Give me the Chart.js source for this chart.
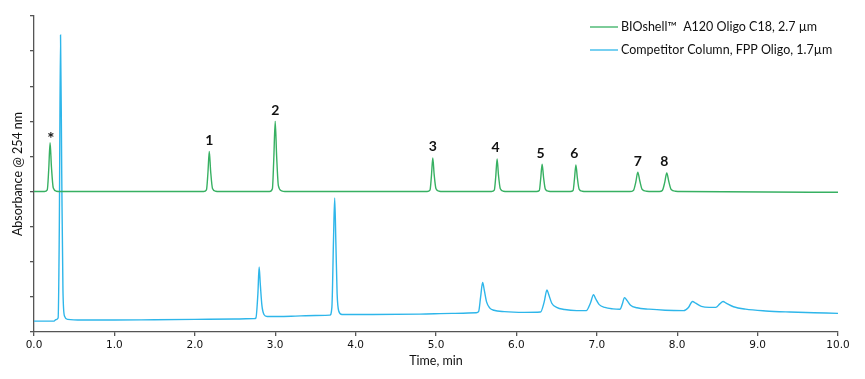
<!DOCTYPE html>
<html>
<head>
<meta charset="utf-8">
<script src="https://cdn.jsdelivr.net/npm/chart.js@4.4.0/dist/chart.umd.min.js"></script>
<style>
  html, body { margin: 0; padding: 0; background: #fff; }
</style>
</head>
<body>
<canvas id="chrom" width="865" height="379"></canvas>
<script>
// BIOshell trace (green), time in min / absorbance in tick units
const greenTime = [0, 0.13, 0.165, 0.183, 0.20, 0.217, 0.24, 0.28, 0.32,
    2.11, 2.145, 2.163, 2.18, 2.197, 2.22, 2.26, 2.30,
    2.93, 2.965, 2.982, 3.00, 3.018, 3.04, 3.08, 3.12,
    4.89, 4.925, 4.943, 4.96, 4.977, 5.00, 5.04, 5.08,
    5.69, 5.725, 5.743, 5.76, 5.777, 5.80, 5.84, 5.88,
    6.25, 6.285, 6.302, 6.32, 6.338, 6.36, 6.40, 6.44,
    6.67, 6.705, 6.722, 6.74, 6.758, 6.78, 6.82, 6.86,
    7.41, 7.455, 7.485, 7.51, 7.535, 7.565, 7.62, 7.68,
    7.78, 7.815, 7.845, 7.87, 7.895, 7.925, 7.98, 8.04,
    10.0]
const greenAbs = [4.0, 4.0, 4.05, 4.62, 5.39, 4.7, 4.1, 4.01, 4.0,
    4.0, 4.05, 4.52, 5.14, 4.58, 4.09, 4.01, 4.0,
    4.0, 4.08, 4.9, 6.0, 5.0, 4.16, 4.02, 4.0,
    4.0, 4.04, 4.44, 4.96, 4.49, 4.08, 4.01, 4.0,
    4.0, 4.04, 4.42, 4.93, 4.47, 4.08, 4.01, 4.0,
    4.0, 4.03, 4.36, 4.78, 4.4, 4.07, 4.01, 4.0,
    4.0, 4.03, 4.35, 4.76, 4.39, 4.07, 4.01, 4.0,
    4.0, 4.03, 4.27, 4.55, 4.3, 4.06, 4.01, 4.0,
    4.0, 4.03, 4.26, 4.53, 4.29, 4.06, 4.01, 4.0,
    3.98]

// competitor trace (blue)
const blueTime = [0, 0.25, 0.27, 0.30, 0.315, 0.33, 0.345, 0.36, 0.38, 0.42, 0.6, 1.0, 1.5, 2.0, 2.5, 2.74,
    2.76, 2.785, 2.80, 2.815, 2.835, 2.86, 2.90, 3.2, 3.5, 3.68,
    3.705, 3.725, 3.74, 3.755, 3.77, 3.79, 3.83, 4.2, 4.8, 5.2, 5.5,
    5.53, 5.555, 5.58, 5.60, 5.63, 5.67, 5.72, 5.85, 6.1, 6.3,
    6.345, 6.38, 6.40, 6.44, 6.5, 6.6, 6.75, 6.87,
    6.92, 6.96, 6.985, 7.03, 7.1, 7.2, 7.29,
    7.315, 7.345, 7.375, 7.42, 7.5, 7.65, 7.85, 8.08,
    8.14, 8.19, 8.23, 8.3, 8.4, 8.48,
    8.53, 8.57, 8.61, 8.7, 8.85, 9.1, 9.4, 9.7, 10.0]
const blueAbs = [0.31, 0.31, 0.35, 0.4, 3.0, 8.46, 4.5, 1.2, 0.45, 0.36, 0.34, 0.34, 0.35, 0.36, 0.37, 0.38,
    0.4, 1.1, 1.85, 1.35, 0.75, 0.5, 0.44, 0.45, 0.47, 0.48,
    0.7, 2.6, 3.82, 2.5, 1.1, 0.6, 0.5, 0.5, 0.51, 0.53, 0.55,
    0.58, 1.0, 1.41, 1.2, 0.85, 0.68, 0.62, 0.58, 0.56, 0.57,
    0.85, 1.2, 1.08, 0.82, 0.7, 0.64, 0.61, 0.61,
    0.82, 1.06, 0.95, 0.78, 0.7, 0.66, 0.65,
    0.78, 0.98, 0.9, 0.76, 0.69, 0.65, 0.62, 0.61,
    0.7, 0.87, 0.82, 0.73, 0.7, 0.7,
    0.8, 0.87, 0.82, 0.72, 0.65, 0.6, 0.57, 0.55, 0.53]

// peak annotations on the green trace
const peakLabels = ['*', '1', '2', '3', '4', '5', '6', '7', '8']
const peakTimes = [0.21, 2.18, 3.00, 4.96, 5.74, 6.30, 6.72, 7.51, 7.84]
const peakTops = [5.39, 5.14, 6.0, 4.96, 4.93, 4.78, 4.76, 4.55, 4.53]

const xTicks = [0, 1, 2, 3, 4, 5, 6, 7, 8, 9, 10]

const seriesNames = ['BIOshell\u2122  A120 Oligo C18, 2.7 \u00b5m', 'Competitor Column, FPP Oligo, 1.7\u00b5m']
const green = '#37b062'
const blue = '#2eb6ea'
const axisColor = '#555'

const toPoints = (xs, ys) => xs.map((x, i) => ({ x: x, y: ys[i] }))

const peakLabelPlugin = {
    id: 'peakLabels',
    afterDatasetsDraw(chart) {
        const ctx = chart.ctx
        const xs = chart.scales.x, ys = chart.scales.y
        ctx.save()
        ctx.fillStyle = '#111'
        ctx.textAlign = 'center'
        ctx.textBaseline = 'bottom'
        peakLabels.forEach((lab, i) => {
            const px = xs.getPixelForValue(peakTimes[i])
            const py = ys.getPixelForValue(peakTops[i])
            if (lab === '*') {
                ctx.font = 'bold 17px Lato'
                ctx.fillText(lab, px, py + 5)
            } else {
                ctx.font = 'bold 14px Lato'
                ctx.fillText(lab, px, py - 4)
            }
        })
        ctx.restore()
    }
}

const legendPlugin = {
    id: 'sideLegend',
    afterDraw(chart) {
        const ctx = chart.ctx
        ctx.save()
        ctx.font = '12.5px Lato'
        ctx.textBaseline = 'middle'
        chart.data.datasets.forEach((ds, i) => {
            const y = 27 + i * 23
            ctx.strokeStyle = ds.borderColor
            ctx.lineWidth = 1.3
            ctx.beginPath()
            ctx.moveTo(590, y)
            ctx.lineTo(618, y)
            ctx.stroke()
            ctx.fillStyle = '#111'
            ctx.fillText(ds.label, 621, y)
        })
        ctx.restore()
    }
}

new Chart(document.querySelector('#chrom'), {
    type: 'scatter',
    data: {
        datasets: [{
            label: seriesNames[0],
            data: toPoints(greenTime, greenAbs),
            borderColor: green,
            borderWidth: 1.4,
            showLine: true,
            pointRadius: 0,
            cubicInterpolationMode: 'monotone'
        }, {
            label: seriesNames[1],
            data: toPoints(blueTime, blueAbs),
            borderColor: blue,
            borderWidth: 1.4,
            showLine: true,
            pointRadius: 0,
            cubicInterpolationMode: 'monotone'
        }]
    },
    options: {
        responsive: false,
        animation: false,
        layout: { padding: { top: 16, right: 27, left: 0, bottom: 0 } },
        plugins: {
            legend: false,
            tooltip: { enabled: false }
        },
        scales: {
            x: {
                type: 'linear',
                min: 0,
                max: 10,
                afterBuildTicks: scale => { scale.ticks = xTicks.map(v => ({ value: v })) },
                afterFit: scale => { scale.height = 47 },
                border: { display: true, color: axisColor, width: 1.3 },
                grid: { drawOnChartArea: false, drawTicks: true, tickLength: 4, color: axisColor, lineWidth: 1.3 },
                ticks: {
                    padding: 3,
                    color: '#111',
                    font: { family: 'DejaVu Sans', size: 10.5 },
                    maxRotation: 0,
                    callback: value => value.toFixed(1)
                },
                title: {
                    display: true,
                    text: 'Time, min',
                    color: '#111',
                    font: { family: 'Lato', size: 12.5 },
                    padding: { top: 0, bottom: 11 }
                }
            },
            y: {
                min: 0,
                max: 9,
                afterFit: scale => { scale.width = 34 },
                border: { display: true, color: axisColor, width: 1.3 },
                grid: { drawOnChartArea: false, drawTicks: true, tickLength: 4, color: axisColor, lineWidth: 1.3 },
                ticks: { stepSize: 1, callback: () => '' },
                title: {
                    display: true,
                    text: 'Absorbance @ 254 nm',
                    color: '#111',
                    font: { family: 'Lato', size: 12.5 },
                    padding: { top: 10, bottom: 0 }
                }
            }
        }
    },
    plugins: [peakLabelPlugin, legendPlugin]
})
</script>
</body>
</html>
